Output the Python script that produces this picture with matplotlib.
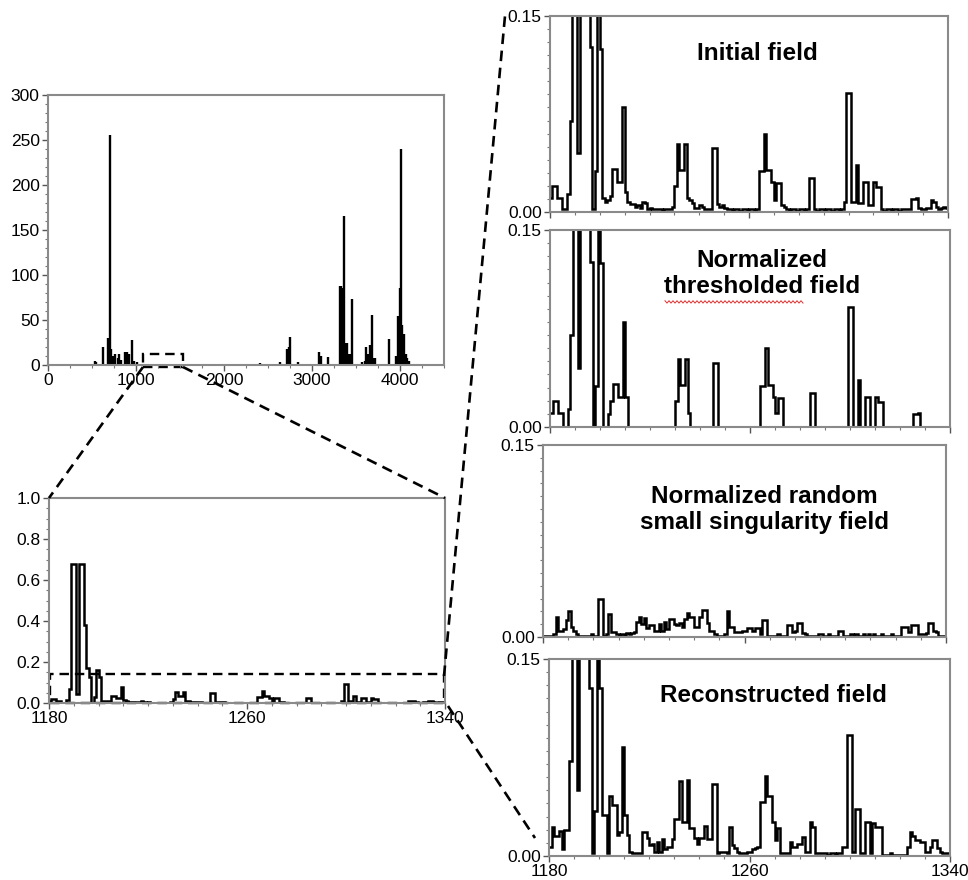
import numpy as np
import matplotlib
matplotlib.use("Agg")
import matplotlib.pyplot as plt
from matplotlib.lines import Line2D
from matplotlib.patches import Rectangle
from matplotlib.ticker import MultipleLocator, FixedLocator

plt.rcParams['font.family'] = ['Liberation Sans', 'DejaVu Sans']

# ---------------- data ----------------
# full record (top-left)
spike_x = [530, 545, 625, 680, 695, 708, 720, 735, 760, 790, 805, 825, 880, 900, 920, 951, 975, 1010,
           2405, 2640, 2720, 2735, 2746, 2840, 3080, 3100, 3180,
           3322, 3330, 3338, 3346, 3360, 3375, 3395, 3415, 3430, 3451, 3565, 3600, 3617, 3640, 3663,
           3686, 3700, 3712, 3875, 3960, 3977, 3986, 3995, 4003, 4015, 4025, 4035, 4045, 4055, 4065,
           4080, 4100]
spike_h = [4, 3, 20, 30, 28, 255, 18, 10, 12, 8, 12, 6, 14, 14, 12, 28, 5, 3,
           2, 3, 18, 20, 31, 3, 15, 10, 9,
           88, 88, 86, 86, 165, 25, 25, 12, 12, 73, 3, 4, 20, 12, 22,
           56, 8, 8, 29, 10, 55, 52, 85, 50, 240, 45, 35, 35, 12, 12,
           8, 5]

x_start, x_end = 1180, 1340

initial_field = [
    0.011, 0.020, 0.020, 0.011, 0.011, 0.002, 0.002, 0.014, 0.070, 0.680,
    0.680, 0.045, 0.680, 0.680, 0.380, 0.170, 0.126, 0.002, 0.031, 0.160,
    0.125, 0.011, 0.008, 0.009, 0.012, 0.033, 0.033, 0.023, 0.023, 0.080,
    0.015, 0.008, 0.006, 0.006, 0.004, 0.005, 0.003, 0.008, 0.007, 0.002,
    0.003, 0.002, 0.002, 0.002, 0.002, 0.001, 0.002, 0.002, 0.002, 0.004,
    0.020, 0.052, 0.032, 0.032, 0.052, 0.011, 0.009, 0.007, 0.003, 0.003,
    0.005, 0.004, 0.002, 0.002, 0.002, 0.049, 0.049, 0.006, 0.004, 0.005,
    0.003, 0.002, 0.002, 0.001, 0.002, 0.002, 0.001, 0.002, 0.002, 0.001,
    0.002, 0.002, 0.001, 0.002, 0.031, 0.031, 0.060, 0.032, 0.032, 0.023,
    0.009, 0.022, 0.022, 0.005, 0.004, 0.002, 0.001, 0.002, 0.002, 0.001,
    0.002, 0.002, 0.001, 0.002, 0.026, 0.026, 0.002, 0.001, 0.002, 0.002,
    0.001, 0.002, 0.002, 0.001, 0.002, 0.002, 0.001, 0.002, 0.008, 0.091,
    0.091, 0.008, 0.008, 0.036, 0.007, 0.007, 0.023, 0.023, 0.005, 0.005,
    0.023, 0.019, 0.019, 0.002, 0.001, 0.002, 0.002, 0.001, 0.002, 0.002,
    0.001, 0.002, 0.002, 0.002, 0.002, 0.010, 0.010, 0.011, 0.003, 0.002,
    0.002, 0.003, 0.003, 0.009, 0.008, 0.004, 0.002, 0.003, 0.004, 0.003]

thresholded_field = [
    0.011, 0.020, 0.020, 0.011, 0.011, 0.000, 0.000, 0.014, 0.070, 0.680,
    0.680, 0.045, 0.680, 0.680, 0.380, 0.170, 0.126, 0.000, 0.031, 0.160,
    0.125, 0.000, 0.000, 0.010, 0.020, 0.033, 0.033, 0.023, 0.023, 0.080,
    0.023, 0.000, 0.000, 0.000, 0.000, 0.000, 0.000, 0.000, 0.000, 0.000,
    0.000, 0.000, 0.000, 0.000, 0.000, 0.000, 0.000, 0.000, 0.000, 0.000,
    0.020, 0.052, 0.032, 0.032, 0.052, 0.011, 0.000, 0.000, 0.000, 0.000,
    0.000, 0.000, 0.000, 0.000, 0.000, 0.049, 0.049, 0.000, 0.000, 0.000,
    0.000, 0.000, 0.000, 0.000, 0.000, 0.000, 0.000, 0.000, 0.000, 0.000,
    0.000, 0.000, 0.000, 0.000, 0.031, 0.031, 0.060, 0.032, 0.032, 0.023,
    0.011, 0.022, 0.022, 0.000, 0.000, 0.000, 0.000, 0.000, 0.000, 0.000,
    0.000, 0.000, 0.000, 0.000, 0.026, 0.026, 0.000, 0.000, 0.000, 0.000,
    0.000, 0.000, 0.000, 0.000, 0.000, 0.000, 0.000, 0.000, 0.000, 0.091,
    0.091, 0.000, 0.000, 0.036, 0.000, 0.000, 0.023, 0.023, 0.000, 0.000,
    0.023, 0.019, 0.019, 0.000, 0.000, 0.000, 0.000, 0.000, 0.000, 0.000,
    0.000, 0.000, 0.000, 0.000, 0.000, 0.010, 0.010, 0.011, 0.000, 0.000,
    0.000, 0.000, 0.000, 0.000, 0.000, 0.000, 0.000, 0.000, 0.000, 0.000]

random_field = [
    0.001, 0.001, 0.001, 0.001, 0.002, 0.016, 0.005, 0.005, 0.006, 0.013,
    0.020, 0.008, 0.005, 0.002, 0.001, 0.001, 0.001, 0.001, 0.001, 0.002,
    0.001, 0.001, 0.030, 0.030, 0.001, 0.002, 0.018, 0.004, 0.004, 0.002,
    0.001, 0.002, 0.001, 0.003, 0.002, 0.003, 0.004, 0.012, 0.016, 0.010,
    0.015, 0.007, 0.009, 0.009, 0.005, 0.005, 0.010, 0.005, 0.012, 0.006,
    0.014, 0.014, 0.010, 0.009, 0.011, 0.008, 0.014, 0.019, 0.016, 0.016,
    0.008, 0.008, 0.016, 0.021, 0.021, 0.011, 0.005, 0.005, 0.002, 0.001,
    0.001, 0.001, 0.002, 0.020, 0.008, 0.008, 0.004, 0.004, 0.004, 0.005,
    0.005, 0.007, 0.007, 0.005, 0.007, 0.007, 0.002, 0.013, 0.013, 0.001,
    0.001, 0.001, 0.001, 0.002, 0.001, 0.001, 0.001, 0.009, 0.009, 0.004,
    0.005, 0.011, 0.011, 0.003, 0.002, 0.001, 0.001, 0.001, 0.001, 0.002,
    0.002, 0.001, 0.001, 0.002, 0.001, 0.001, 0.001, 0.005, 0.005, 0.001,
    0.001, 0.001, 0.002, 0.001, 0.002, 0.001, 0.001, 0.002, 0.001, 0.002,
    0.001, 0.002, 0.001, 0.001, 0.002, 0.001, 0.001, 0.001, 0.002, 0.001,
    0.001, 0.001, 0.008, 0.008, 0.008, 0.004, 0.009, 0.009, 0.009, 0.002,
    0.002, 0.002, 0.003, 0.011, 0.011, 0.005, 0.004, 0.001, 0.001, 0.001]

reconstructed_field = [
    0.007, 0.022, 0.015, 0.015, 0.019, 0.005, 0.020, 0.020, 0.072, 0.680,
    0.680, 0.050, 0.680, 0.680, 0.380, 0.170, 0.128, 0.002, 0.034, 0.160,
    0.128, 0.031, 0.031, 0.002, 0.046, 0.039, 0.039, 0.016, 0.018, 0.083,
    0.031, 0.016, 0.003, 0.002, 0.002, 0.002, 0.002, 0.018, 0.018, 0.014,
    0.008, 0.009, 0.003, 0.011, 0.003, 0.013, 0.005, 0.007, 0.007, 0.013,
    0.028, 0.028, 0.057, 0.026, 0.026, 0.058, 0.021, 0.021, 0.014, 0.009,
    0.014, 0.014, 0.023, 0.013, 0.013, 0.055, 0.055, 0.002, 0.003, 0.003,
    0.003, 0.002, 0.022, 0.008, 0.006, 0.003, 0.002, 0.002, 0.002, 0.003,
    0.003, 0.005, 0.006, 0.007, 0.041, 0.041, 0.061, 0.046, 0.046, 0.026,
    0.012, 0.021, 0.002, 0.002, 0.002, 0.002, 0.011, 0.007, 0.007, 0.009,
    0.009, 0.0145, 0.003, 0.003, 0.026, 0.022, 0.002, 0.002, 0.002, 0.002,
    0.002, 0.001, 0.002, 0.002, 0.001, 0.002, 0.002, 0.007, 0.007, 0.092,
    0.092, 0.003, 0.036, 0.036, 0.002, 0.002, 0.026, 0.026, 0.002, 0.025,
    0.022, 0.022, 0.022, 0.001, 0.001, 0.001, 0.002, 0.001, 0.001, 0.001,
    0.001, 0.001, 0.001, 0.007, 0.018, 0.015, 0.012, 0.012, 0.011, 0.011,
    0.003, 0.003, 0.007, 0.012, 0.012, 0.006, 0.003, 0.002, 0.002, 0.002]

panel_titles = ["Initial field", "Normalized\nthresholded field",
                "Normalized random\nsmall singularity field", "Reconstructed field"]

# ---------------- figure ----------------
W, H = 968, 880
fig = plt.figure(figsize=(W / 100, H / 100), dpi=100)
fig.patch.set_facecolor('white')


def px_rect(x0, y0, x1, y1):
    return [x0 / W, 1 - y1 / H, (x1 - x0) / W, (y1 - y0) / H]


def px(x, y):
    return (x / W, 1 - y / H)


SPINE = '#8a8a8a'


def style(ax, fs):
    for s in ax.spines.values():
        s.set_color(SPINE)
        s.set_linewidth(1.5)
    ax.tick_params(which='major', direction='out', length=4, width=1, color='#555555',
                   labelsize=fs, pad=2)
    ax.tick_params(which='minor', direction='out', length=2, width=0.8, color='#777777')


edges = np.arange(x_start, x_end + 1)

# top-left: full record
ax0 = fig.add_axes(px_rect(48, 95, 444, 365))
ax0.vlines(spike_x, 0, spike_h, color='black', lw=1.7)
ax0.set_xlim(0, 4500)
ax0.set_ylim(0, 300)
ax0.xaxis.set_major_locator(FixedLocator([0, 1000, 2000, 3000, 4000]))
ax0.xaxis.set_minor_locator(MultipleLocator(250))
ax0.yaxis.set_major_locator(MultipleLocator(50))
ax0.yaxis.set_minor_locator(MultipleLocator(10))
style(ax0, 12.5)
ax0.add_patch(Rectangle((1080, -2.5), 455, 14.5, fill=False, ls=(0, (4, 2.5)),
                        lw=1.7, ec='black', clip_on=False))

# bottom-left: zoom 1180-1340
ax1 = fig.add_axes(px_rect(49, 498, 445, 703))
ax1.stairs(initial_field, edges, color='black', lw=1.8, baseline=None)
ax1.set_xlim(x_start, x_end)
ax1.set_ylim(0, 1.0)
ax1.xaxis.set_major_locator(FixedLocator([1180, 1260, 1340]))
ax1.xaxis.set_minor_locator(MultipleLocator(10))
ax1.yaxis.set_major_locator(MultipleLocator(0.2))
ax1.yaxis.set_minor_locator(MultipleLocator(0.05))
ax1.yaxis.set_major_formatter(matplotlib.ticker.FormatStrFormatter('%.1f'))
style(ax1, 12.5)
ax1.add_patch(Rectangle((1180.6, 0), 158.8, 0.14, fill=False, ls=(0, (4, 2.5)),
                        lw=1.7, ec='black', clip_on=False))

# right panels
right_boxes = [(550, 16, 948, 212), (550, 230, 950, 427), (543, 445, 946, 637), (549, 659, 950, 856)]
right_series = [initial_field, thresholded_field, random_field, reconstructed_field]
title_pos = [(0.52, 0.81), (0.53, 0.78), (0.55, 0.665), (0.56, 0.815)]

for k, (box, series, title, tp) in enumerate(zip(right_boxes, right_series, panel_titles, title_pos)):
    ax = fig.add_axes(px_rect(*box))
    ax.stairs(series, edges, color='black', lw=1.8, baseline=None)
    ax.set_xlim(x_start, x_end)
    ax.set_ylim(0, 0.15)
    ax.yaxis.set_major_locator(FixedLocator([0.0, 0.15]))
    ax.yaxis.set_minor_locator(MultipleLocator(0.01))
    ax.yaxis.set_major_formatter(matplotlib.ticker.FormatStrFormatter('%.2f'))
    ax.xaxis.set_major_locator(FixedLocator([1180, 1260, 1340]))
    ax.xaxis.set_minor_locator(MultipleLocator(10))
    style(ax, 12.5)
    ax.tick_params(axis='x', labelsize=12.5)
    if k < 3:
        ax.tick_params(axis='x', labelbottom=False)
    ax.text(tp[0], tp[1], title, transform=ax.transAxes, ha='center', va='center',
            fontsize=17.5, fontweight='bold', linespacing=1.2)
    if k == 1:
        xs = np.linspace(0.2875, 0.6325, 70)
        ys = 0.635 + 0.006 * (-1.0) ** np.arange(70)
        ax.plot(xs, ys, color='#e03030', lw=0.7, transform=ax.transAxes)

# dashed connector lines (figure pixel coordinates)
dash = (0, (4, 2.5))
connectors = [((143, 367), (49, 498)), ((183, 367), (445, 498)),
              ((444, 676), (505, 16)), ((448, 706), (535, 838))]
for (a, b) in connectors:
    p0, p1 = px(*a), px(*b)
    fig.add_artist(Line2D([p0[0], p1[0]], [p0[1], p1[1]], transform=fig.transFigure,
                          color='black', lw=1.9, ls=dash))

fig.savefig('out.png', dpi=100, facecolor='white')
